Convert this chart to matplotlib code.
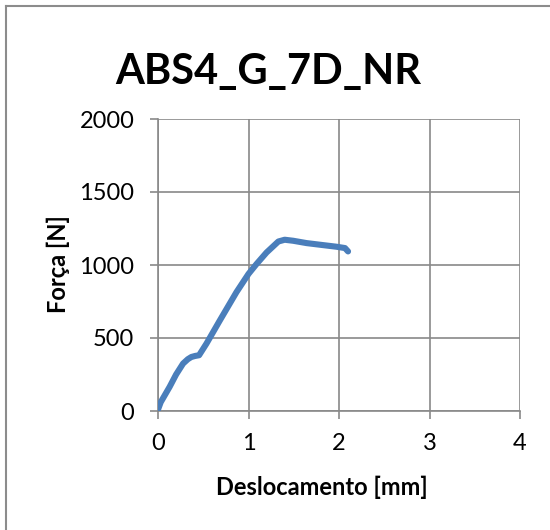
import matplotlib
matplotlib.use("Agg")
import matplotlib.pyplot as plt
from matplotlib.lines import Line2D

# Force-displacement curve
deslocamento = [0.0, 0.03, 0.129, 0.20, 0.277, 0.33, 0.369, 0.41, 0.454, 0.535, 0.683, 0.867,
                1.0, 1.089, 1.2, 1.33, 1.40, 1.494, 1.642, 1.827, 1.974, 2.066, 2.10]
forca = [10, 60, 166, 250, 325, 355, 370, 377, 382, 461, 620, 814,
         939, 1007, 1086, 1161, 1173, 1166, 1150, 1136, 1125, 1116, 1093]

x_ticks = [0, 1, 2, 3, 4]
y_ticks = [0, 500, 1000, 1500, 2000]

title = "ABS4_G_7D_NR"
x_label = "Deslocamento [mm]"
y_label = "Força [N]"

plt.rcParams["font.family"] = ["Lato", "DejaVu Sans"]

W, H = 550, 530
fig = plt.figure(figsize=(W / 100, H / 100), dpi=100)
ax = fig.add_axes([158 / W, 1 - 411 / H, (520 - 158) / W, (411 - 119) / H])

grid_c = "#898989"
ax.plot(deslocamento, forca, color="#4A7EBB", lw=4.4, solid_capstyle="round",
        solid_joinstyle="round", zorder=3)

ax.set_xlim(0, 4)
ax.set_ylim(0, 2000)
ax.set_xticks(x_ticks)
ax.set_yticks(y_ticks)
ax.grid(True, color=grid_c, lw=1.2)
for s in ("top", "right"):
    ax.spines[s].set_visible(False)
for s in ("left", "bottom"):
    ax.spines[s].set_color(grid_c)
    ax.spines[s].set_linewidth(1.2)
ax.tick_params(axis="both", direction="out", color=grid_c, width=1.2, labelsize=17)
ax.tick_params(axis="y", length=6, pad=11)
ax.tick_params(axis="x", length=5.5, pad=10)
ax.set_axisbelow(True)

fig.text(268 / W, 1 - 72 / H, title, ha="center", va="center", fontsize=30, fontweight="bold")
fig.text(322 / W, 1 - 487 / H, x_label, ha="center", va="center", fontsize=17, fontweight="bold")
fig.text(58 / W, 1 - 264 / H, y_label, ha="center", va="center", fontsize=17, fontweight="bold",
         rotation=90)

# outer chart frame (top and left edges)
fig.add_artist(Line2D([6 / W, 6 / W], [0, 1 - 6 / H], color="#8c8c8c", lw=1.5,
                      transform=fig.transFigure))
fig.add_artist(Line2D([6 / W, 1], [1 - 6 / H, 1 - 6 / H], color="#8c8c8c", lw=1.5,
                      transform=fig.transFigure))

fig.savefig("out.png", dpi=100)
